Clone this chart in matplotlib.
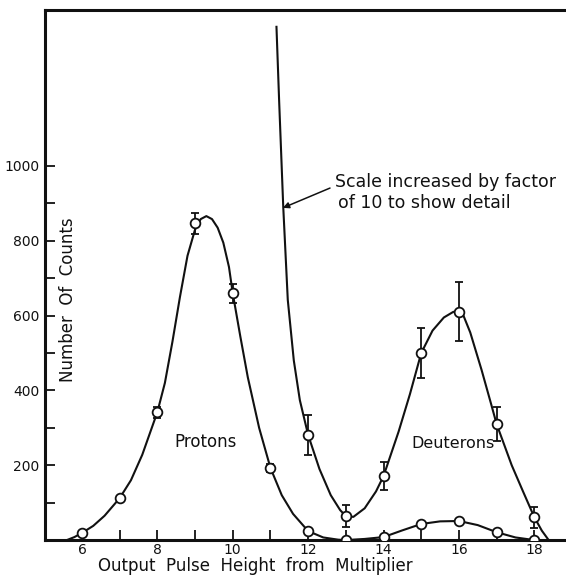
import numpy as np
import matplotlib.pyplot as plt

# ---------------- data ----------------
# proton peak (normal scale)
p_x = [6, 7, 8, 9, 10, 11, 12, 13]
p_y = [19, 112, 342, 847, 660, 193, 24, 0]
p_err = [0, 0, 15, 28, 25, 10, 0, 0]

# hand-drawn curve through the proton points
p_curve_x = [5.6, 5.8, 6.0, 6.3, 6.6, 7.0, 7.3, 7.6, 8.0, 8.2, 8.4, 8.6,
             8.8, 9.0, 9.15, 9.3, 9.45, 9.6, 9.75, 9.9, 10.0, 10.2, 10.4,
             10.7, 11.0, 11.3, 11.6, 12.0, 12.4, 12.8, 13.0, 18.84]
p_curve_y = [0, 8, 19, 38, 65, 112, 160, 228, 342, 420, 530, 650,
             760, 830, 858, 866, 858, 835, 795, 730, 660, 545, 435,
             300, 193, 120, 70, 24, 7, 1, 0, 0]

# deuteron points (normal scale)
d_x = [14, 15, 16, 17, 18]
d_y = [8, 43, 51, 21, 0]
d_curve_x = [13.0, 13.5, 14.0, 14.5, 15.0, 15.5, 16.0, 16.5, 17.0, 17.5, 18.0]
d_curve_y = [0, 3, 8, 26, 43, 50, 51, 40, 21, 7, 0]

# "scale increased by factor of 10" curve
s_x = [12, 13, 14, 15, 16, 17, 18]
s_y = [281, 64, 171, 500, 610, 310, 61]
s_err = [53, 30, 38, 68, 79, 45, 28]
s_curve_x = [11.16, 11.23, 11.34, 11.46, 11.62, 11.78, 12.0, 12.3,
             12.6, 12.85, 13.0, 13.2, 13.5, 13.8, 14.0, 14.4, 14.7, 15.0,
             15.3, 15.6, 15.85, 16.0, 16.1, 16.3, 16.6, 16.85, 17.0, 17.4,
             17.7, 18.0, 18.2, 18.38]
s_curve_y = [1372, 1176, 890, 642, 480, 374, 281, 190,
             120, 80, 64, 62, 85, 130, 171, 290, 390, 500,
             560, 595, 610, 612, 605, 555, 455, 365, 310, 200,
             130, 61, 25, 0]

x_major = [6, 8, 10, 12, 14, 16, 18]
x_minor = [7, 9, 11, 13, 15, 17]
y_major = [200, 400, 600, 800, 1000]
y_minor = [100, 300, 500, 700, 900]

# ---------------- figure ----------------
fig = plt.figure(figsize=(5.66, 5.77), dpi=100)
ax = fig.add_axes([0.0795, 0.064, 0.9205, 0.9187])
ink = "#111111"

ax.plot(p_curve_x, p_curve_y, color=ink, lw=1.5, zorder=2)
ax.plot(d_curve_x, d_curve_y, color=ink, lw=1.5, zorder=2)
ax.plot(s_curve_x, s_curve_y, color=ink, lw=1.5, zorder=2)

mk = dict(fmt="o", ms=7, mfc="white", mec=ink, mew=1.3, ecolor=ink,
          elinewidth=1.3, capsize=3, capthick=1.3, zorder=3)
ax.errorbar(p_x, p_y, yerr=p_err, **mk)
ax.errorbar(d_x, d_y, **mk)
ax.errorbar(s_x, s_y, yerr=s_err, **mk)

ax.set_xlim(5.02, 18.84)
ax.set_ylim(0, 1417)

ax.set_xticks(x_major)
ax.set_xticks(x_minor, minor=True)
ax.set_yticks(y_major)
ax.set_yticks(y_minor, minor=True)
ax.tick_params(which="both", direction="in", length=7, width=1.3, color=ink,
               labelsize=10, labelcolor=ink)
ax.tick_params(axis="x", pad=2)
ax.tick_params(axis="y", pad=4)
ax.set_xticklabels([str(v) for v in x_major])
ax.set_yticklabels([str(v) for v in y_major])

for side in ["left", "bottom", "top"]:
    ax.spines[side].set_linewidth(2.2)
    ax.spines[side].set_color(ink)
ax.spines["right"].set_visible(False)

ax.text(9.29, 262, "Protons", fontsize=12, ha="center", va="center", color=ink)
ax.text(15.84, 257, "Deuterons", fontsize=11.5, ha="center", va="center", color=ink)
ax.text(5.62, 642, "Number  Of  Counts", fontsize=12, rotation=90,
        ha="center", va="center", color=ink)

# annotation for the magnified curve
ax.text(12.71, 957, "Scale increased by factor", fontsize=12.5,
        ha="left", va="center", color=ink)
ax.text(12.79, 901, "of 10 to show detail", fontsize=12.5,
        ha="left", va="center", color=ink)
ax.annotate("", xy=(11.33, 888), xytext=(12.58, 941),
            arrowprops=dict(arrowstyle="-|>", color=ink, lw=1.1,
                            shrinkA=0, shrinkB=0, mutation_scale=9))

ax.set_xlabel("Output  Pulse  Height  from  Multiplier", fontsize=12,
              color=ink)
ax.xaxis.set_label_coords(0.403, -0.048, transform=ax.transAxes)
ax.xaxis.label.set_va("center")

fig.savefig("out.png", dpi=100)
